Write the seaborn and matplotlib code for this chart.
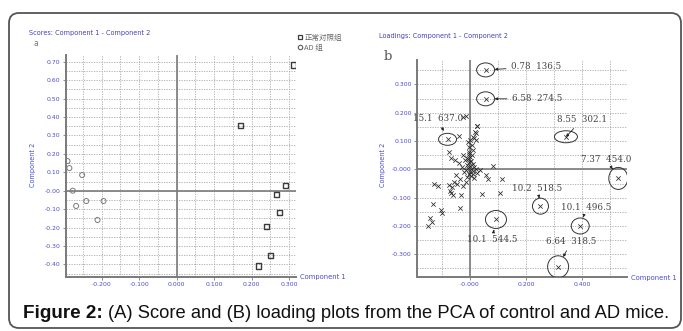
import matplotlib
matplotlib.use("Agg")
import matplotlib.pyplot as plt
import matplotlib.transforms as mtransforms
from matplotlib.patches import Ellipse, FancyBboxPatch
from matplotlib.lines import Line2D
import numpy as np
import pandas as pd
import seaborn as sns

# ---- data: scores plot (a) ----
ctrl_x = [0.311, 0.171, 0.291, 0.266, 0.273, 0.240, 0.249, 0.219]
ctrl_y = [0.683, 0.353, 0.029, -0.020, -0.119, -0.196, -0.351, -0.409]
ad_x = [-0.291, -0.286, -0.252, -0.277, -0.241, -0.195, -0.268, -0.211]
ad_y = [0.161, 0.123, 0.085, 0.000, -0.056, -0.056, -0.083, -0.159]
group_names = ["正常对照组", "AD 组"]

# ---- data: loadings plot (b) ----
load_x = [-0.014, -0.024, 0.027, 0.024, 0.018, 0.020, 0.012, -0.040, 0.021, 0.015,
          0.000, -0.006, -0.002, 0.008, 0.012, -0.005, -0.076, -0.069, -0.054, -0.038,
          -0.024, -0.018, -0.030, -0.010, 0.000, 0.005, -0.005, 0.010, -0.012, 0.002,
          0.015, -0.008, 0.005, -0.015, 0.010, 0.000, -0.005, 0.012, 0.020, -0.020,
          0.003, -0.010, 0.015, 0.025, -0.002, 0.008, -0.007, 0.083, 0.036, 0.057,
          0.064, 0.113, 0.042, 0.107, -0.048, -0.036, -0.057, -0.074, -0.064, -0.045,
          -0.127, -0.113, -0.068, -0.060, -0.072, -0.033, -0.133, -0.036, -0.104, -0.101,
          -0.143, -0.137, -0.148, -0.025, -0.015]
load_y = [0.188, 0.184, 0.153, 0.153, 0.133, 0.127, 0.115, 0.117, 0.104, 0.109,
          0.104, 0.098, 0.080, 0.085, 0.070, 0.062, 0.062, 0.039, 0.033, 0.021,
          0.051, 0.033, 0.010, 0.040, 0.045, 0.030, 0.025, 0.020, 0.015, 0.012,
          0.008, 0.005, 0.000, -0.002, -0.005, -0.008, -0.015, -0.015, 0.002, -0.010,
          -0.022, -0.028, -0.030, -0.012, 0.055, 0.050, 0.035, 0.012, -0.002, -0.020,
          -0.035, -0.035, -0.087, -0.085, -0.020, -0.035, -0.044, -0.055, -0.064, -0.050,
          -0.052, -0.059, -0.085, -0.091, -0.078, -0.091, -0.123, -0.138, -0.144, -0.155,
          -0.173, -0.185, -0.200, -0.060, -0.045]

lab_x = [0.056, 0.056, 0.343, -0.080, 0.530, 0.252, 0.394, 0.093, 0.315]
lab_y = [0.351, 0.249, 0.115, 0.106, -0.032, -0.130, -0.200, -0.177, -0.344]
lab_text = ["0.78  136.5", "6.58  274.5", "8.55  302.1", "15.1  637.0", "7.37  454.0",
            "10.2  518.5", "10.1  496.5", "10.1  544.5", "6.64  318.5"]

# layout (pixels) for the annotations: ellipse size and label offset
ell_w = [18, 18, 23, 18, 19, 16, 18, 21, 21]
ell_h = [14, 14, 12, 12, 22, 16, 16, 18, 22]
lab_dx = [25, 26, -9, -35, -37, -28, -19, -29, -12]
lab_dy = [3, 0, 17, 21, 19, 18, 18, -20, 25]

W, H = 683, 331
BLUE = "#4a4ad0"
GRID = "#a8a8a8"
AXC = "#7a7a7a"

sns.set_theme(style="white")
plt.rcParams["font.family"] = ["DejaVu Sans", "Noto Sans CJK SC"]

fig = plt.figure(figsize=(W / 100, H / 100), dpi=100)


def rect(x0, y0, x1, y1):
    return [x0 / W, 1 - y1 / H, (x1 - x0) / W, (y1 - y0) / H]


def style_axes(ax, xminor, yminor, xt, xl, yt, yl):
    ax.set_xticks(xt)
    ax.set_xticklabels(xl)
    ax.set_yticks(yt)
    ax.set_yticklabels(yl)
    ax.set_xticks(xminor, minor=True)
    ax.set_yticks(yminor, minor=True)
    ax.grid(which="both", color=GRID, linestyle=(0, (1.5, 1.5)), linewidth=0.6)
    ax.set_axisbelow(True)
    for s in ["top", "right"]:
        ax.spines[s].set_visible(False)
    for s in ["left", "bottom"]:
        ax.spines[s].set_color(AXC)
        ax.spines[s].set_linewidth(1.4)
    ax.tick_params(which="major", length=2, width=0.6, color=AXC, labelsize=4.4,
                   labelcolor=BLUE, pad=2, left=True, bottom=True)
    ax.tick_params(which="minor", length=0)
    ax.axhline(0, color=AXC, lw=1.2, zorder=1.5)
    ax.axvline(0, color=AXC, lw=1.2, zorder=1.5)
    ax.set_xlabel("")
    ax.set_ylabel("")


# ---- (a) scores ----
ax1 = fig.add_axes(rect(66, 55, 296, 276.7))
df_c = pd.DataFrame({"x": ctrl_x, "y": ctrl_y})
df_a = pd.DataFrame({"x": ad_x, "y": ad_y})
sns.scatterplot(data=df_c, x="x", y="y", ax=ax1, marker="s", s=14,
                fc="none", ec="#3c3c3c", linewidth=1.0, zorder=3)
sns.scatterplot(data=df_a, x="x", y="y", ax=ax1, marker="o", s=13,
                fc="none", ec="#7a7a7a", linewidth=0.7, zorder=3)
ax1.set_xlim(-0.295, 0.318)
ax1.set_ylim(-0.467, 0.737)
xt1 = [-0.2, -0.1, 0.0, 0.1, 0.2, 0.3]
yt1 = [0.7, 0.6, 0.5, 0.4, 0.3, 0.2, 0.1, 0.0, -0.1, -0.2, -0.3, -0.4]
style_axes(ax1, np.arange(-0.25, 0.31, 0.05), np.arange(-0.45, 0.71, 0.05),
           xt1, ["-0.200", "-0.100", "0.000", "0.100", "0.200", "0.300"],
           yt1, ["0.70", "0.60", "0.50", "0.40", "0.30", "0.20", "0.10", "-0.00",
                 "-0.10", "-0.20", "-0.30", "-0.40"])

handles = [Line2D([], [], marker="s", ls="", mfc="none", mec="#3c3c3c", ms=3.2, mew=0.9),
           Line2D([], [], marker="o", ls="", mfc="none", mec="#5a5a5a", ms=3.2, mew=0.8)]
fig.legend(handles, group_names, loc="upper left", bbox_to_anchor=(294 / W, 1 - 30 / H),
           frameon=False, handlelength=0.6, handletextpad=0.3,
           labelspacing=0.25, borderpad=0, labelcolor="#666666",
           prop={"family": ["Noto Sans CJK SC", "DejaVu Sans"], "size": 5.4})

fig.text(29 / W, 1 - 33 / H, "Scores: Component 1 - Component 2", fontsize=4.7,
         color="#4040b8", va="center")
fig.text(34 / W, 1 - 43 / H, "a", fontsize=5.5, color="#777777", va="center")
fig.text(33 / W, 1 - 165 / H, "Component 2", fontsize=4.7, color=BLUE,
         rotation=90, ha="center", va="center")
fig.text(300 / W, 1 - 277 / H, "Component 1", fontsize=4.9, color=BLUE, va="center")

# ---- (b) loadings ----
ax2 = fig.add_axes(rect(417.3, 60, 626.7, 276.7))
df_l = pd.DataFrame({"x": load_x, "y": load_y})
df_lab = pd.DataFrame({"x": lab_x, "y": lab_y, "label": lab_text})
sns.scatterplot(data=df_l, x="x", y="y", ax=ax2, marker="x", s=10,
                color="#2a2a2a", linewidth=0.55, zorder=3)
sns.scatterplot(data=df_lab, x="x", y="y", ax=ax2, marker="x", s=10,
                color="#2a2a2a", linewidth=0.55, zorder=3)
ax2.set_xlim(-0.188, 0.560)
ax2.set_ylim(-0.379, 0.386)
style_axes(ax2, np.arange(-0.1, 0.56, 0.1), np.arange(-0.35, 0.39, 0.05),
           [0.0, 0.2, 0.4], ["-0.000", "0.200", "0.400"],
           [0.3, 0.2, 0.1, 0.0, -0.1, -0.2, -0.3],
           ["0.300", "0.200", "0.100", "-0.000", "-0.100", "-0.200", "-0.300"])

# pixel -> data scale for the ellipses
px_x = (0.560 + 0.188) / (626.7 - 417.3)
px_y = (0.386 + 0.379) / (276.7 - 60)
for i, row in df_lab.iterrows():
    ax2.add_patch(Ellipse((row.x, row.y), ell_w[i] * px_x, ell_h[i] * px_y,
                          fill=False, ec="#333333", lw=0.7, zorder=4))
    ax2.annotate(row.label, (row.x, row.y), xytext=(lab_dx[i], lab_dy[i]),
                 textcoords="offset pixels", fontsize=6.3, family="DejaVu Serif",
                 color="#444444", ha="left", va="center", zorder=5,
                 annotation_clip=False,
                 arrowprops=dict(arrowstyle="-|>,head_length=0.25,head_width=0.12",
                                 color="#222222", lw=0.6, shrinkA=1,
                                 shrinkB=max(ell_w[i], ell_h[i]) * 0.36))

fig.text(379 / W, 1 - 36 / H, "Loadings: Component 1 - Component 2", fontsize=4.7,
         color="#4040b8", va="center")
fig.text(384 / W, 1 - 57 / H, "b", fontsize=9.5, family="DejaVu Serif",
         color="#555555", va="center")
fig.text(383 / W, 1 - 165 / H, "Component 2", fontsize=4.7, color=BLUE,
         rotation=90, ha="center", va="center")
fig.text(631 / W, 1 - 278 / H, "Component 1", fontsize=4.9, color=BLUE, va="center")

# ---- caption and frame ----
fig.text(23 / W, 1 - 314 / H, "Figure 2:", fontsize=13.6, fontweight="bold",
         family="Liberation Sans", color="#111111", va="center")
fig.text(108 / W, 1 - 314 / H,
         "(A) Score and (B) loading plots from the PCA of control and AD mice.",
         fontsize=13.2, family="Liberation Sans", color="#111111", va="center")

frame = FancyBboxPatch((9, 3), 672, H - 13 - 3, boxstyle="round,pad=0,rounding_size=10",
                       transform=mtransforms.IdentityTransform(), fill=False,
                       ec="#555555", lw=1.3)
fig.patches.append(frame)

fig.savefig("out.png", dpi=100)
